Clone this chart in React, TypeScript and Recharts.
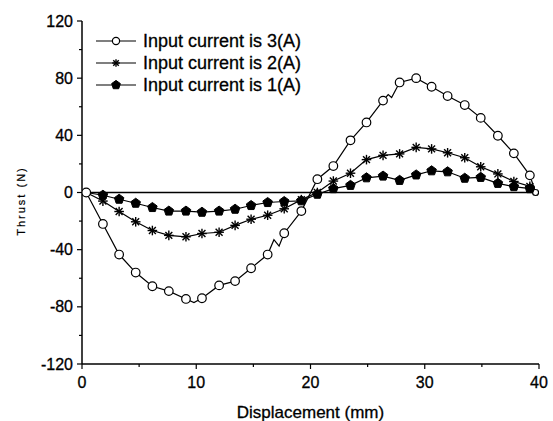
import React from 'react';
import { LineChart, Line, XAxis, YAxis, ReferenceLine } from 'recharts';

// Marker positions (mm)
const displacement = [0.37, 1.83, 3.25, 4.7, 6.16, 7.6, 9.1, 10.5, 12.0, 13.4, 14.8, 16.25, 17.7, 19.2, 20.6, 22.0, 23.5, 24.9, 26.35, 27.8, 29.25, 30.6, 32.0, 33.5, 34.9, 36.4, 37.8, 39.2, 39.7];
const thrust3A = [0, -22, -43.4, -56, -65.6, -69, -74.5, -74, -65, -62, -53, -43.4, -28.5, -13, 9.3, 18.5, 36.5, 49, 64.3, 77, 80, 74, 67.5, 61.2, 52.2, 39.7, 27.4, 12, 0];
const thrust2A = [0, -6, -13.3, -20.5, -26.6, -30, -31, -28.7, -27.8, -23, -18.7, -15.9, -11.4, -5, 0, 8, 13.5, 23, 26, 27, 31.6, 30.5, 27.8, 24.3, 18, 13, 7.7, 4.3, 0];
const thrust1A = [0, -1.9, -4.7, -7.5, -10.5, -13, -13, -13.8, -13, -11.7, -9.1, -7, -6.3, -5.8, -1.2, 2.7, 5, 10.3, 11.5, 8.5, 12.3, 15.2, 14.5, 10, 10.6, 6.4, 4.1, 2.7, 0];
// Unmarked intermediate points of the 3A curve
const extraX3A = [9.8, 16.8, 17.25, 26.8, 27.1];
const extraY3A = [-77, -33, -37.5, 68.5, 66.5];

const seriesNames = ['Input current is 3(A)', 'Input current is 2(A)', 'Input current is 1(A)'];
const xTicks = [0, 5, 10, 15, 20, 25, 30, 35, 40];
const yTicks = [-120, -100, -80, -60, -40, -20, 0, 20, 40, 60, 80, 100, 120];
const topTicks = [0, 4, 8, 12, 16, 20, 24, 28, 32, 36, 40];
const rightTicks = [-120, -96, -72, -48, -24, 0, 24, 48, 72, 96, 120];

type Pt = { x: number; y: number; m: boolean };

function build(ys: number[], markFirstLast: boolean, ex: number[] = [], ey: number[] = []): Pt[] {
  const pts: Pt[] = displacement.map((x, i) => ({
    x,
    y: ys[i],
    m: markFirstLast ? true : i > 0 && i < displacement.length - 1,
  }));
  ex.forEach((x, i) => pts.push({ x, y: ey[i], m: false }));
  pts.sort((a, b) => a.x - b.x);
  return pts;
}

const data3A = build(thrust3A, true, extraX3A, extraY3A);
const data2A = build(thrust2A, false);
const data1A = build(thrust1A, false);

const FONT = '"Liberation Sans", Arial, sans-serif';

function Circle({ cx, cy, r = 4.3 }: any) {
  return <circle cx={cx} cy={cy} r={r} fill="#fff" stroke="#000" strokeWidth={1.2} />;
}
function Star({ cx, cy, s = 4.8 }: any) {
  const d = s * 0.72;
  return (
    <g stroke="#000" strokeWidth={1.4}>
      <line x1={cx} y1={cy - s} x2={cx} y2={cy + s} />
      <line x1={cx - s} y1={cy} x2={cx + s} y2={cy} />
      <line x1={cx - d} y1={cy - d} x2={cx + d} y2={cy + d} />
      <line x1={cx - d} y1={cy + d} x2={cx + d} y2={cy - d} />
    </g>
  );
}
function Pentagon({ cx, cy, r = 5 }: any) {
  const pts = [0, 1, 2, 3, 4]
    .map((k) => {
      const ang = -Math.PI / 2 + (k * 2 * Math.PI) / 5;
      return `${cx + r * Math.cos(ang)},${cy + r * Math.sin(ang)}`;
    })
    .join(' ');
  return <polygon points={pts} fill="#000" stroke="#000" strokeWidth={1} />;
}

const makeDot = (kind: number) => (props: any) => {
  const { cx, cy, payload, index } = props;
  const key = `d${kind}-${index}`;
  if (!payload || !payload.m || cx == null || cy == null) return <g key={key} />;
  if (kind === 0) {
    const last = payload.x === displacement[displacement.length - 1];
    return <g key={key}><Circle cx={cx} cy={cy} r={last ? 3 : 4.3} /></g>;
  }
  if (kind === 1) return <g key={key}><Star cx={cx} cy={cy} /></g>;
  return <g key={key}><Pentagon cx={cx} cy={cy} /></g>;
};

function BottomTick({ x, y, payload }: any) {
  const v = payload.value;
  const major = v % 10 === 0;
  return (
    <g>
      <line x1={x} y1={y} x2={x} y2={y + (major ? 5 : 3)} stroke="#000" strokeWidth={1.2} />
      {major && (
        <text x={x} y={y + 24} textAnchor="middle" fontSize={16} fontFamily={FONT} fill="#000" stroke="#000" strokeWidth={0.3}>
          {v}
        </text>
      )}
    </g>
  );
}
function LeftTick({ x, y, payload }: any) {
  const v = payload.value;
  const major = v % 40 === 0;
  return (
    <g>
      <line x1={x - (major ? 5 : 3)} y1={y} x2={x} y2={y} stroke="#000" strokeWidth={1.2} />
      {major && (
        <text x={x - 9} y={y + 5.5} textAnchor="end" fontSize={16} fontFamily={FONT} fill="#000" stroke="#000" strokeWidth={0.3}>
          {v}
        </text>
      )}
    </g>
  );
}
function TopTick({ x, y }: any) {
  return <line x1={x} y1={y} x2={x} y2={y + 4} stroke="#000" strokeWidth={1.1} />;
}
function RightTick({ x, y }: any) {
  return <line x1={x - 4} y1={y} x2={x} y2={y} stroke="#000" strokeWidth={1.1} />;
}

function XTitle() {
  return (
    <text x={310.5} y={418} textAnchor="middle" fontSize={17} fontFamily={FONT} fill="#000" stroke="#000" strokeWidth={0.3}>
      Displacement (mm)
    </text>
  );
}
function YTitle() {
  return (
    <text transform="translate(25,201) rotate(-90)" textAnchor="middle" fontSize={11} letterSpacing={2} fontFamily={FONT} fill="#000" stroke="#000" strokeWidth={0.2}>
      Thrust (N)
    </text>
  );
}

const legendRows = [40.7, 62.7, 85];

export default function App() {
  return (
    <div style={{ position: 'absolute', left: 0, top: 0, width: 553, height: 421, background: '#fff' }}>
      <LineChart width={553} height={421} margin={{ top: 21, right: 14, bottom: 0, left: 0 }}>
        <XAxis
          dataKey="x"
          type="number"
          domain={[0, 40]}
          ticks={xTicks}
          allowDataOverflow
          height={57}
          tickSize={0}
          tickMargin={0}
          tickLine={false}
          tick={(p: any) => <BottomTick {...p} />}
          axisLine={{ stroke: '#000', strokeWidth: 1.5 }}
          label={<XTitle />}
        />
        <XAxis
          xAxisId="top"
          orientation="top"
          type="number"
          domain={[0, 40]}
          ticks={topTicks}
          allowDataOverflow
          height={0}
          tickSize={0}
          tickMargin={0}
          tickLine={false}
          tick={(p: any) => <TopTick {...p} />}
          axisLine={{ stroke: '#000', strokeWidth: 1.5 }}
        />
        <YAxis
          type="number"
          domain={[-120, 120]}
          ticks={yTicks}
          allowDataOverflow
          width={82}
          tickSize={0}
          tickMargin={0}
          tickLine={false}
          tick={(p: any) => <LeftTick {...p} />}
          axisLine={{ stroke: '#000', strokeWidth: 1.5 }}
          label={<YTitle />}
        />
        <YAxis
          yAxisId="right"
          orientation="right"
          type="number"
          domain={[-120, 120]}
          ticks={rightTicks}
          allowDataOverflow
          width={0}
          tickSize={0}
          tickMargin={0}
          tickLine={false}
          tick={(p: any) => <RightTick {...p} />}
          axisLine={{ stroke: '#000', strokeWidth: 1.5 }}
        />
        <ReferenceLine y={0} stroke="#000" strokeWidth={1.3} />
        <Line data={data3A} dataKey="y" name={seriesNames[0]} type="linear" stroke="#000" strokeWidth={1.2} dot={makeDot(0)} activeDot={false} isAnimationActive={false} />
        <Line data={data2A} dataKey="y" name={seriesNames[1]} type="linear" stroke="#000" strokeWidth={1.2} dot={makeDot(1)} activeDot={false} isAnimationActive={false} />
        <Line data={data1A} dataKey="y" name={seriesNames[2]} type="linear" stroke="#000" strokeWidth={1.2} dot={makeDot(2)} activeDot={false} isAnimationActive={false} />
      </LineChart>
      {seriesNames.map((name, i) => (
        <div key={name} style={{ position: 'absolute', left: 96, top: legendRows[i] - 11, height: 22, display: 'flex', alignItems: 'center' }}>
          <svg width={44} height={22} style={{ display: 'block' }}>
            <line x1={0} y1={11} x2={40} y2={11} stroke="#000" strokeWidth={1.1} />
            {i === 0 && <Circle cx={20} cy={11} r={3.6} />}
            {i === 1 && <Star cx={20} cy={11} s={3.8} />}
            {i === 2 && <Pentagon cx={20} cy={11} r={4.6} />}
          </svg>
          <span style={{ marginLeft: 3, fontFamily: FONT, fontSize: 18, lineHeight: '22px', color: '#000', whiteSpace: 'nowrap', WebkitTextStroke: '0.3px #000' }}>{name}</span>
        </div>
      ))}
    </div>
  );
}
